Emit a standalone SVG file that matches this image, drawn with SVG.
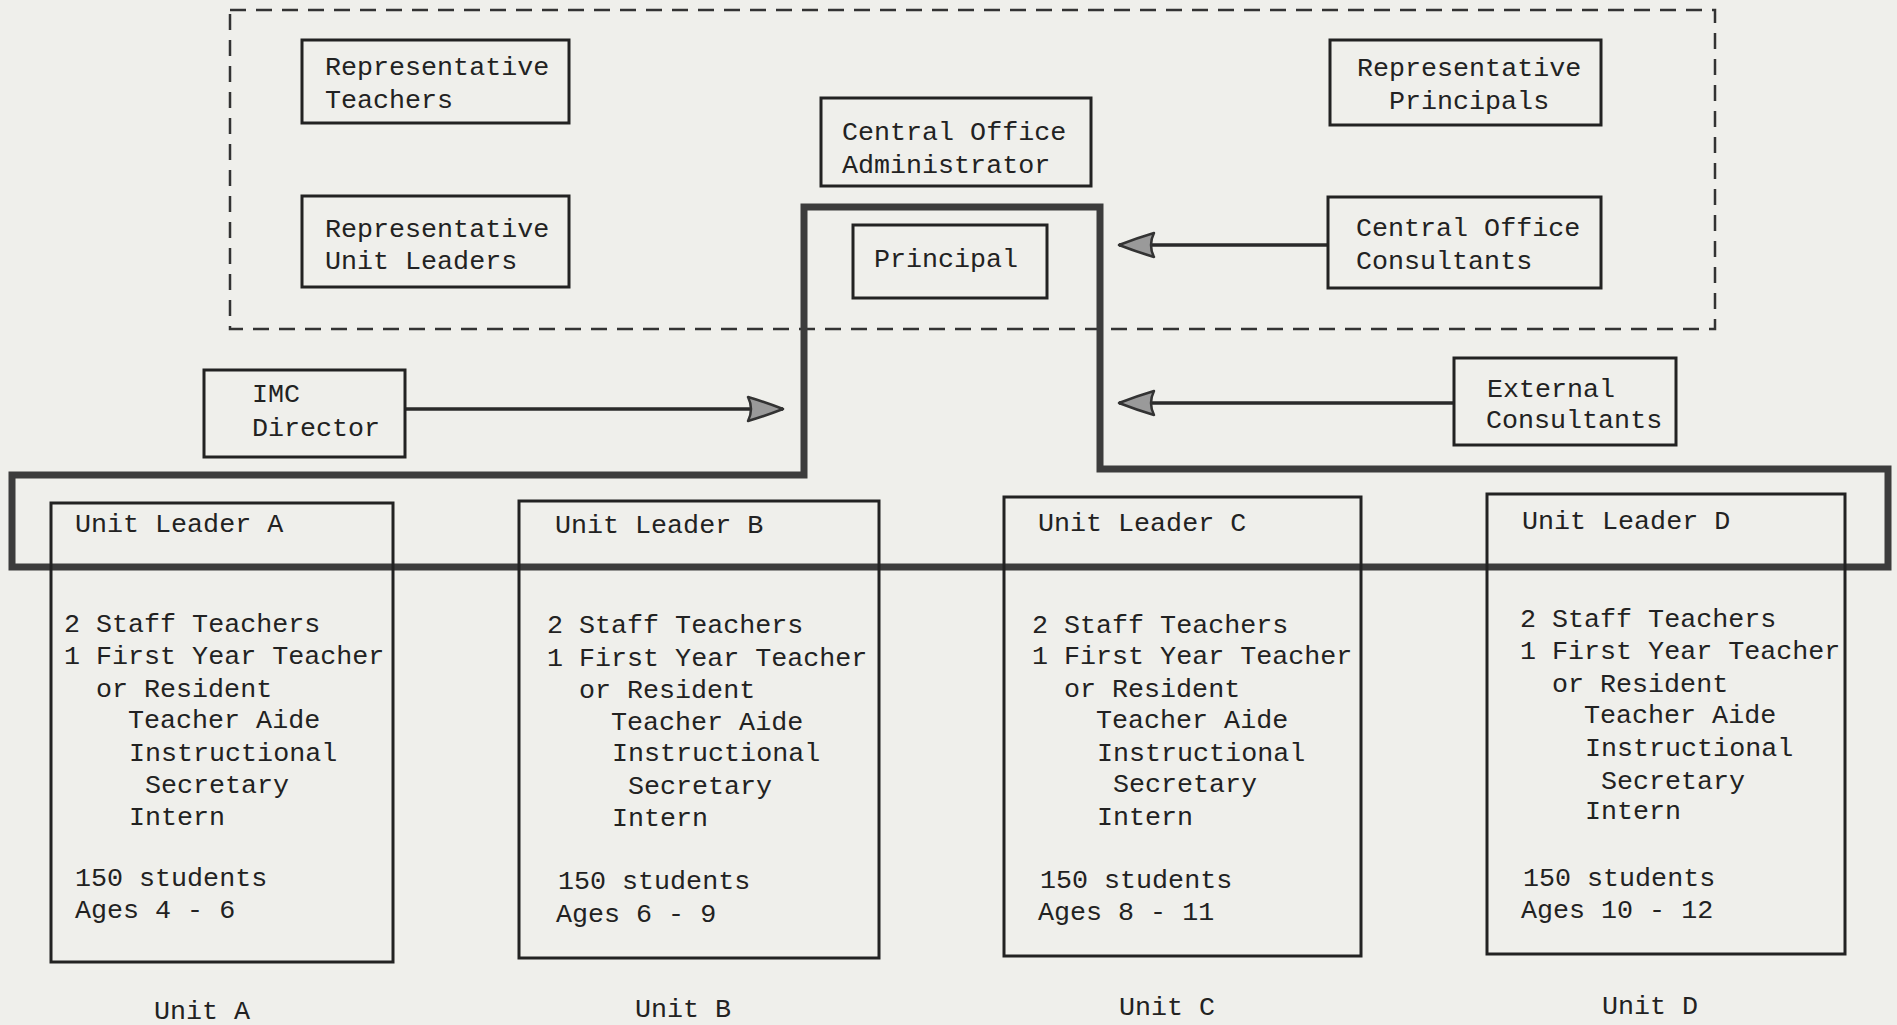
<svg xmlns="http://www.w3.org/2000/svg" width="1897" height="1025" viewBox="0 0 1897 1025">
<style>
  .bg { fill: #efefeb; }
  .box { fill: none; stroke: #222; stroke-width: 3; }
  .dash { fill: none; stroke: #333; stroke-width: 2.5; stroke-dasharray: 16 10; }
  .thick { fill: none; stroke: #3c3c3c; stroke-width: 7; stroke-linejoin: miter; }
  .conn { fill: none; stroke: #2a2a2a; stroke-width: 3.5; }
  text { font-family: "Liberation Mono", "DejaVu Sans Mono", monospace; font-size: 26.7px; fill: #222; }
</style>
<defs>
  <marker id="arrow" viewBox="0 0 40 30" refX="38" refY="15" markerWidth="40" markerHeight="30" markerUnits="userSpaceOnUse" orient="auto">
    <path d="M3 3 Q20 8 38 15 Q20 22 3 27 Q9 15 3 3 Z" fill="#9a9a9a" stroke="#333" stroke-width="2.5" stroke-linejoin="round"/>
  </marker>
</defs>
<rect class="bg" x="0" y="0" width="1897" height="1025"/>

<rect id="boundary" class="dash" x="230" y="10" width="1485" height="319"/>

<g id="connectors">
  <path id="bracket" class="thick" d="M1100 207 L804 207 L804 475 L12 475 L12 567 L1888 567 L1888 469 L1100 469 Z"/>
  <line class="conn" x1="405" y1="409" x2="783" y2="409" marker-end="url(#arrow)"/>
  <line class="conn" x1="1328" y1="245" x2="1119" y2="245" marker-end="url(#arrow)"/>
  <line class="conn" x1="1454" y1="403" x2="1119" y2="403" marker-end="url(#arrow)"/>
</g>

<g id="rep-teachers">
  <rect class="box" x="302" y="40" width="267" height="83"/>
  <text x="325" y="75">Representative</text>
  <text x="325" y="108">Teachers</text>
</g>
<g id="rep-unit-leaders">
  <rect class="box" x="302" y="196" width="267" height="91"/>
  <text x="325" y="237">Representative</text>
  <text x="325" y="269">Unit Leaders</text>
</g>
<g id="central-office-admin">
  <rect class="box" x="821" y="98" width="270" height="88"/>
  <text x="842" y="140">Central Office</text>
  <text x="842" y="173">Administrator</text>
</g>
<g id="principal">
  <rect class="box" x="853" y="225" width="194" height="73"/>
  <text x="874" y="267">Principal</text>
</g>
<g id="rep-principals">
  <rect class="box" x="1330" y="40" width="271" height="85"/>
  <text x="1357" y="76">Representative</text>
  <text x="1389" y="109">Principals</text>
</g>
<g id="central-office-consultants">
  <rect class="box" x="1328" y="197" width="273" height="91"/>
  <text x="1356" y="236">Central Office</text>
  <text x="1356" y="269">Consultants</text>
</g>
<g id="imc-director">
  <rect class="box" x="204" y="370" width="201" height="87"/>
  <text x="252" y="402">IMC</text>
  <text x="252" y="436">Director</text>
</g>
<g id="external-consultants">
  <rect class="box" x="1454" y="358" width="222" height="87"/>
  <text x="1487" y="397">External</text>
  <text x="1486" y="428">Consultants</text>
</g>

<g id="unit-a">
  <rect class="box" x="51" y="503" width="342" height="459"/>
  <text x="75" y="532">Unit Leader A</text>
  <text x="64" y="632">2 Staff Teachers</text>
  <text x="64" y="664">1 First Year Teacher</text>
  <text x="96" y="697">or Resident</text>
  <text x="128" y="728">Teacher Aide</text>
  <text x="129" y="761">Instructional</text>
  <text x="145" y="793">Secretary</text>
  <text x="129" y="825">Intern</text>
  <text x="75" y="886">150 students</text>
  <text x="75" y="918">Ages 4 - 6</text>
  <text x="154" y="1019">Unit A</text>
</g>
<g id="unit-b">
  <rect class="box" x="519" y="501" width="360" height="457"/>
  <text x="555" y="533">Unit Leader B</text>
  <text x="547" y="633">2 Staff Teachers</text>
  <text x="547" y="666">1 First Year Teacher</text>
  <text x="579" y="698">or Resident</text>
  <text x="611" y="730">Teacher Aide</text>
  <text x="612" y="761">Instructional</text>
  <text x="628" y="794">Secretary</text>
  <text x="612" y="826">Intern</text>
  <text x="558" y="889">150 students</text>
  <text x="556" y="922">Ages 6 - 9</text>
  <text x="635" y="1017">Unit B</text>
</g>
<g id="unit-c">
  <rect class="box" x="1004" y="497" width="357" height="459"/>
  <text x="1038" y="531">Unit Leader C</text>
  <text x="1032" y="633">2 Staff Teachers</text>
  <text x="1032" y="664">1 First Year Teacher</text>
  <text x="1064" y="697">or Resident</text>
  <text x="1096" y="728">Teacher Aide</text>
  <text x="1097" y="761">Instructional</text>
  <text x="1113" y="792">Secretary</text>
  <text x="1097" y="825">Intern</text>
  <text x="1040" y="888">150 students</text>
  <text x="1038" y="920">Ages 8 - 11</text>
  <text x="1119" y="1015">Unit C</text>
</g>
<g id="unit-d">
  <rect class="box" x="1487" y="494" width="358" height="460"/>
  <text x="1522" y="529">Unit Leader D</text>
  <text x="1520" y="627">2 Staff Teachers</text>
  <text x="1520" y="659">1 First Year Teacher</text>
  <text x="1552" y="692">or Resident</text>
  <text x="1584" y="723">Teacher Aide</text>
  <text x="1585" y="756">Instructional</text>
  <text x="1601" y="789">Secretary</text>
  <text x="1585" y="819">Intern</text>
  <text x="1523" y="886">150 students</text>
  <text x="1521" y="918">Ages 10 - 12</text>
  <text x="1602" y="1014">Unit D</text>
</g>
</svg>
